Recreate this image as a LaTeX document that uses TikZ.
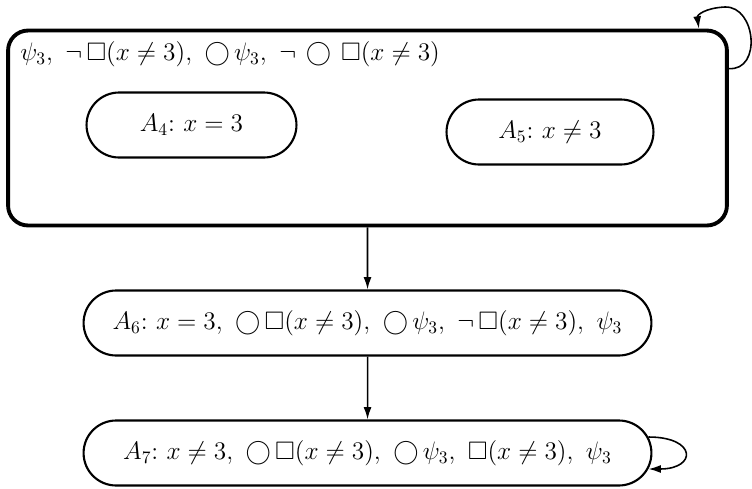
\documentclass[tikz,border=0pt]{standalone}
\usepackage{amsmath,amssymb}
\usetikzlibrary{arrows.meta,shapes.misc}

\begin{document}
\begin{tikzpicture}[
    x=0.02cm, y=-0.02cm,
    state/.style={draw, rounded rectangle, line width=1.2pt, minimum height=1.3cm, font=\Large, inner sep=2pt},
    group/.style={draw, rounded corners=0.4cm, line width=2.2pt, minimum width=14.38cm, minimum height=3.9cm},
    arr/.style={-{Latex[length=7pt,width=4.5pt]}, line width=0.9pt}
]
\useasboundingbox (0,0) rectangle (752,488);
\node[group] (grp) at (367.5,128) {};
\node[anchor=west, inner sep=0pt, font=\Large] (hdr) at (20,54) {$\psi_3,\ \neg\,\Box(x\neq3),\ \bigcirc\,\psi_3,\ \neg\,\bigcirc\,\Box(x\neq3)$};
\node[state, minimum width=4.34cm] (a4) at (191.5,125) {$A_4{:}\ x=3$};
\node[state, minimum width=4.28cm] (a5) at (550,132) {$A_5{:}\ x\neq3$};
\node[state, minimum width=11.5cm] (a6) at (367.5,323) {$A_6{:}\ x=3,\ \bigcirc\,\Box(x\neq3),\ \bigcirc\,\psi_3,\ \neg\,\Box(x\neq3),\ \psi_3$};
\node[state, minimum width=11.5cm] (a7) at (367.5,453) {$A_7{:}\ x\neq3,\ \bigcirc\,\Box(x\neq3),\ \bigcirc\,\psi_3,\ \Box(x\neq3),\ \psi_3$};

\draw[arr] (grp) -- (a6);
\draw[arr] (a6) -- (a7);
\draw[arr] ([yshift=-0.8cm]grp.north east) .. controls (762,71) and (756,6) .. (725,7) .. controls (705,8) and (697,15) .. ([xshift=-0.6cm]grp.north east);
\draw[arr] ([xshift=-0.08cm,yshift=0.32cm]a7.east) .. controls (697,437) and (697,469) .. ([xshift=-0.08cm,yshift=-0.32cm]a7.east);
\end{tikzpicture}
\end{document}
